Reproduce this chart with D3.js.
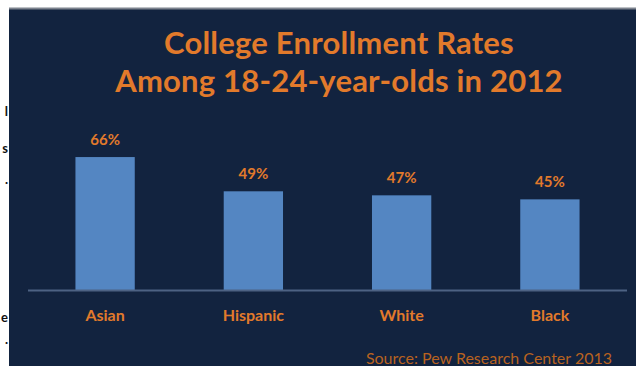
<!DOCTYPE html>
<html lang="en">
<head>
<meta charset="UTF-8">
<script src="https://d3js.org/d3.v7.min.js"></script>
<title>College Enrollment Rates</title>
<style>
  body { margin: 0; background: #ffffff; }
  svg text { font-family: "Lato", "Open Sans", sans-serif; }
</style>
</head>
<body>
<svg id="chart" width="636" height="366"></svg>
<script>
// data
const groups = ["Asian", "Hispanic", "White", "Black"];
const rates = [66, 49, 47, 45];
const titleLines = ["College Enrollment Rates", "Among 18-24-year-olds in 2012"];
const source = "Source: Pew Research Center 2013";

const svg = d3.select("#chart");
const orange = "#e27a2b";

// dark panel
svg.append("rect")
  .attr("x", 9).attr("y", 8)
  .attr("width", 627).attr("height", 358)
  .attr("fill", "#12233f");
svg.append("line")
  .attr("x1", 9).attr("x2", 636).attr("y1", 8.5).attr("y2", 8.5)
  .attr("stroke", "#7d838e").attr("stroke-width", 2);

// cut-off letters from the page on the left
const edgeBits = [["l", 116], ["s", 153], [".", 184], ["e", 322], [".", 344]];
svg.selectAll("text.edge").data(edgeBits).join("text")
  .attr("class", "edge")
  .attr("x", 8).attr("y", d => d[1])
  .attr("text-anchor", "end")
  .attr("font-size", 13)
  .attr("font-weight", "bold")
  .attr("fill", "#111")
  .text(d => d[0]);

// title
svg.selectAll("text.title").data(titleLines).join("text")
  .attr("class", "title")
  .attr("x", 339)
  .attr("y", (d, i) => 54 + i * 38)
  .attr("text-anchor", "middle")
  .attr("font-size", 31)
  .attr("letter-spacing", 0.2)
  .attr("font-weight", "bold")
  .attr("fill", orange)
  .text(d => d);

const x = d3.scaleBand()
  .domain(groups)
  .range([28, 627])
  .paddingInner(0.6)
  .paddingOuter(0.32);

const y = d3.scaleLinear()
  .domain([0, 70])
  .range([290, 149]);

const data = groups.map((g, i) => ({ group: g, rate: rates[i] }));

svg.selectAll("rect.bar").data(data).join("rect")
  .attr("class", "bar")
  .attr("x", d => x(d.group))
  .attr("y", d => y(d.rate))
  .attr("width", x.bandwidth())
  .attr("height", d => y(0) - y(d.rate))
  .attr("fill", "#5486c2");

// baseline
svg.append("line")
  .attr("x1", 28).attr("x2", 627)
  .attr("y1", y(0) + 0.5).attr("y2", y(0) + 0.5)
  .attr("stroke", "#4d6283").attr("stroke-width", 2);

// value labels
svg.selectAll("text.val").data(data).join("text")
  .attr("class", "val")
  .attr("x", d => x(d.group) + x.bandwidth() / 2)
  .attr("y", d => y(d.rate) - 12)
  .attr("text-anchor", "middle")
  .attr("font-size", 15)
  .attr("font-weight", "bold")
  .attr("fill", orange)
  .text(d => d.rate + "%");

// category labels
svg.selectAll("text.cat").data(data).join("text")
  .attr("class", "cat")
  .attr("x", d => x(d.group) + x.bandwidth() / 2)
  .attr("y", 321)
  .attr("text-anchor", "middle")
  .attr("font-size", 16)
  .attr("font-weight", "bold")
  .attr("fill", orange)
  .text(d => d.group);

svg.append("text")
  .attr("x", 612).attr("y", 364)
  .attr("text-anchor", "end")
  .attr("font-size", 16)
  .attr("fill", "#b8621f")
  .text(source);
</script>
</body>
</html>
